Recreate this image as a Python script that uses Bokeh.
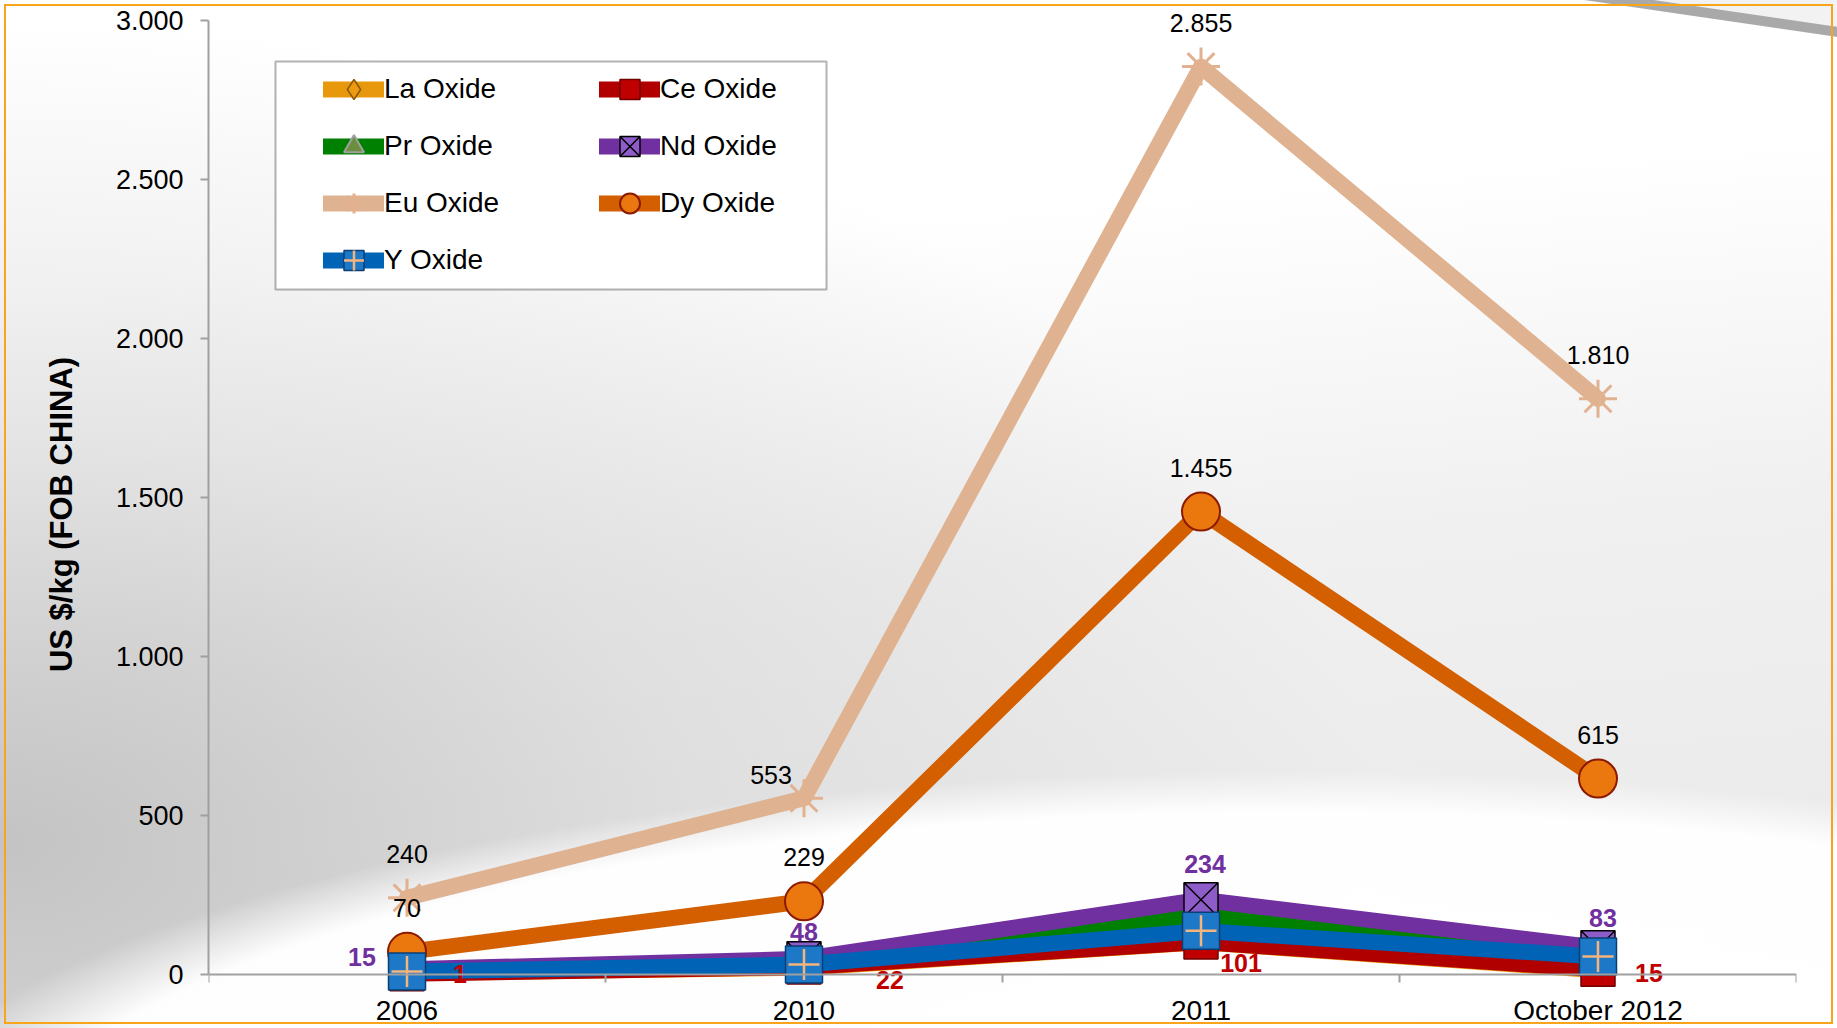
from bokeh.plotting import figure
from bokeh.models import Range1d, FixedTicker, Legend, LegendItem, BoxAnnotation, ColumnDataSource
from bokeh.embed import file_html
from bokeh.resources import INLINE
from bokeh.core.properties import value

# ---------------- data ----------------
categories = ["2006", "2010", "2011", "October 2012"]
la_oxide = [3, 20, 100, 12]
ce_oxide = [1, 22, 101, 15]
pr_oxide = [12, 40, 185, 70]
nd_oxide = [15, 48, 234, 83]
eu_oxide = [240, 553, 2855, 1810]
dy_oxide = [70, 229, 1455, 615]
y_oxide = [8, 30, 136, 55]
y_ticks = [0, 500, 1000, 1500, 2000, 2500, 3000]
y_title = "US $/kg (FOB CHINA)"

def fmt(v):
    return f"{v:,}".replace(",", ".")

# ---------------- geometry ----------------
W, H = 1837, 1028
FL, FR = 208, 41          # frame borders
FW = W - FL - FR
PX_PER_UNIT = 953.6 / 3000.0
Y_END = 3000 + 20 / PX_PER_UNIT
Y_START = Y_END - H / PX_PER_UNIT
NCAT = len(categories)
xs = [i + 0.5 for i in range(NCAT)]

def dx(px):   # canvas px -> data x
    return (px - FL) / FW * NCAT

def dy(py):   # canvas px (from top) -> data y
    return Y_END - py / PX_PER_UNIT

FONT = "Liberation Sans"

p = figure(width=W, height=H, x_range=Range1d(0, NCAT), y_range=Range1d(Y_START, Y_END),
           output_backend="svg", toolbar_location=None,
           min_border_left=FL, min_border_right=FR, min_border_top=0, min_border_bottom=0)
p.styles = {
    "outline": "2px solid #F8A51C",
    "outline-offset": "-6px",
    "background": (
        "linear-gradient(188.3deg, #f2f2f2 0px, #f2f2f2 26px, #a9a9a9 27px, #a9a9a9 36px, rgba(255,255,255,0) 37px),"
        "radial-gradient(ellipse 78% 40% at 70% 115%, rgba(255,255,255,1) 0%, rgba(255,255,255,0.97) 90%, rgba(255,255,255,0) 100%),"
        "radial-gradient(ellipse 75% 80% at 0% 82%, rgba(185,185,185,0.8) 0%, rgba(205,205,205,0.45) 50%, rgba(255,255,255,0) 100%),"
        "linear-gradient(175deg, #ffffff 0%, #ffffff 25%, #f0f0f0 55%, #e8e8e8 100%)"),
}
p.background_fill_alpha = 0
p.border_fill_alpha = 0
p.outline_line_color = None
p.grid.visible = False

# x axis at y = 0
xa = p.xaxis[0]
xa.fixed_location = 0
xa.ticker = FixedTicker(ticks=xs, minor_ticks=list(range(NCAT + 1)))
xa.major_label_overrides = {x: c for x, c in zip(xs, categories)}
xa.major_tick_out = 0
xa.major_tick_in = 0
xa.minor_tick_out = 8
xa.minor_tick_in = 0
xa.minor_tick_line_color = "#a0a0a0"
xa.minor_tick_line_width = 2
xa.axis_line_color = "#a0a0a0"
xa.axis_line_width = 2
xa.major_label_text_font = FONT
xa.major_label_text_font_size = "28px"
xa.major_label_text_color = "black"
xa.major_label_standoff = 13

ya = p.yaxis[0]
ya.bounds = (0, 3000)
ya.ticker = FixedTicker(ticks=y_ticks, minor_ticks=[])
ya.major_label_overrides = {t: fmt(t) for t in y_ticks}
ya.major_tick_out = 8
ya.major_tick_in = 0
ya.major_tick_line_color = "#a0a0a0"
ya.major_tick_line_width = 2
ya.axis_line_color = "#a0a0a0"
ya.axis_line_width = 2
ya.major_label_text_font = FONT
ya.major_label_text_font_size = "27px"
ya.major_label_text_color = "black"
ya.major_label_standoff = 17
ya.axis_label = y_title
ya.axis_label_text_font = FONT
ya.axis_label_text_font_style = "bold"
ya.axis_label_text_font_size = "31px"
ya.axis_label_text_color = "black"
ya.axis_label_standoff = 34

LW = 16
series = [
    ("La Oxide", la_oxide, "#E8980C", dict(marker="diamond", size=30, fill_color="#EE9A10", line_color="#8A5A00", line_width=1.5)),
    ("Ce Oxide", ce_oxide, "#B00000", dict(marker="square", size=34, fill_color="#C00000", line_color="#700000", line_width=1.5)),
    ("Pr Oxide", pr_oxide, "#008000", dict(marker="triangle", size=32, fill_color="#6A8F3D", line_color="#A0A0A0", line_width=2)),
    ("Nd Oxide", nd_oxide, "#7030A0", dict(marker="square_x", size=34, fill_color="#8E5CC8", line_color="black", line_width=1.5)),
    ("Eu Oxide", eu_oxide, "#DFB391", dict(marker="asterisk", size=38, fill_color="#DFB391", line_color="#E2B290", line_width=3)),
    ("Dy Oxide", dy_oxide, "#D35F00", dict(marker="circle", size=38, fill_color="#EA780F", line_color="#8B1A00", line_width=2)),
    ("Y Oxide", y_oxide, "#0063B5", dict(marker="square", size=37, fill_color="#1E78C8", line_color="#0B3F73", line_width=1.5)),
]

items = {}
for name, vals, color, mk in series:
    src = ColumnDataSource(dict(x=xs, y=vals))
    rl = p.line("x", "y", source=src, line_color=color, line_width=LW, line_join="round", line_cap="round")
    rs = p.scatter("x", "y", source=src, **mk)
    rends = [rl, rs]
    if name == "Y Oxide":
        rc = p.scatter("x", "y", source=src, marker="cross", size=31, line_color="#F4B47C", line_width=2.5)
        rends.append(rc)
    items[name] = rends

# ---------------- data labels ----------------
def add_labels(vals, dxs, dys, color, bold):
    src = ColumnDataSource(dict(x=xs, y=vals, t=[fmt(v) for v in vals], ox=dxs, oy=dys))
    p.text("x", "y", text="t", source=src, x_offset="ox", y_offset="oy",
           text_align="center", text_baseline="middle",
           text_font=value(FONT), text_font_size="25px",
           text_font_style="bold" if bold else "normal", text_color=color)

add_labels(eu_oxide, [0, -33, 0, 0], [-44, -23, -44, -44], "black", False)
add_labels(dy_oxide, [0, 0, 0, 0], [-44, -44, -44, -44], "black", False)
add_labels(nd_oxide, [-45, 0, 4, 5], [-12, -27, -36, -30], "#7030A0", True)
add_labels(ce_oxide, [53, 86, 40, 51], [0, 13, 21, 4], "#C00000", True)

# ---------------- legend ----------------
box = BoxAnnotation(left=dx(275), right=dx(826), top=dy(61), bottom=dy(289),
                    fill_color="white", fill_alpha=1, line_color="black", line_width=2)
p.add_layout(box)

def make_legend(names, loc):
    lg = Legend(items=[LegendItem(label=n, renderers=items[n]) for n in names],
                location=loc, orientation="vertical",
                glyph_width=61, glyph_height=50, label_height=50, label_standoff=0,
                spacing=7, padding=11, margin=0,
                label_text_font=FONT, label_text_font_size="28px", label_text_color="black",
                border_line_alpha=0, background_fill_alpha=0)
    p.add_layout(lg, "center")
    return lg

make_legend(["La Oxide", "Pr Oxide", "Eu Oxide", "Y Oxide"], (104, 732))
make_legend(["Ce Oxide", "Nd Oxide", "Dy Oxide"], (380, 789))

open("out.html", "w").write(file_html(p, INLINE))
